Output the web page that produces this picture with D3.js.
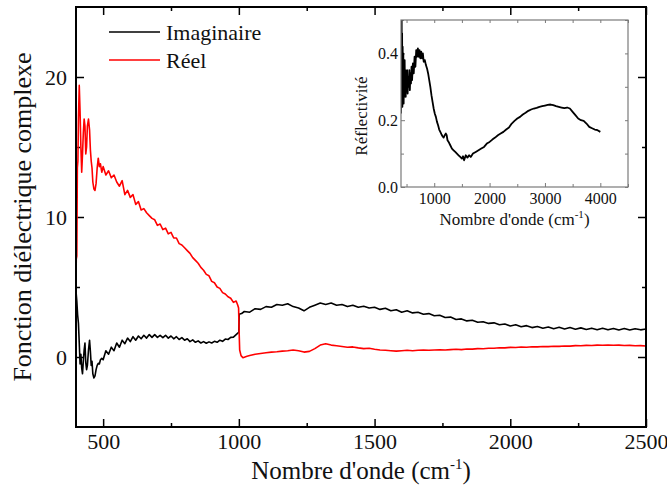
<!DOCTYPE html>
<html><head><meta charset="utf-8">
<script src="https://cdn.jsdelivr.net/npm/d3@7"></script>
<style>body{margin:0;background:#fff}svg{display:block}</style>
</head><body><svg id="c" width="667" height="490"></svg>
<script>
// ---- data ----
const legendLabels = ["Imaginaire", "Réel"];
const xMajorTicks = [500, 1000, 1500, 2000, 2500];
const xMinorTicks = [750, 1250, 1750, 2250];
const yMajorTicks = [0, 10, 20];
const yMinorTicks = [5, 15];
const insetXMajor = [1000, 2000, 3000, 4000];
const insetXMinor = [500, 1500, 2500, 3500, 4500];
const insetYMajor = [0.0, 0.2, 0.4];
const insetYMinor = [0.1, 0.3, 0.5];

const imaginaire = [
[400,4.7],[403,4.0],[406,3.0],[409,2.4],[412,1.0],[415,-0.5],[418,0.2],[421,-0.8],[424,-1.2],[427,-0.3],
[430,0.5],[433,1.0],[436,-0.4],[439,-0.9],[442,-0.6],[446,0.5],[450,1.2],[453,0.4],[456,-0.6],[459,-0.3],
[462,-1.2],[466,-1.5],[470,-1.35],[474,-0.9],[478,-0.6],[482,-0.45],[486,-0.5],[490,-0.2],[495,-0.1],
[500,-0.2],[510,0.45],[520,0.2],[530,0.7],[540,0.45],[550,1.0],[560,0.7],[570,1.2],[580,0.95],[590,1.35],
[600,1.1],[610,1.45],[620,1.2],[630,1.5],[640,1.3],[650,1.55],[660,1.35],[670,1.6],[680,1.4],[690,1.6],
[700,1.4],[710,1.55],[720,1.38],[730,1.55],[740,1.35],[750,1.5],[760,1.3],[770,1.45],[780,1.25],[790,1.38],
[800,1.2],[810,1.3],[820,1.1],[830,1.22],[840,1.05],[850,1.15],[860,1.0],[870,1.1],[880,0.98],[890,1.08],
[900,1.0],[910,1.12],[920,1.05],[930,1.2],[940,1.12],[950,1.28],[960,1.25],[970,1.4],[980,1.42],[990,1.6],
[996,1.7],[1000,1.78],[1001,3.05],[1010,3.1],[1020,3.25],[1040,3.2],[1060,3.45],[1080,3.4],[1100,3.6],
[1120,3.55],[1140,3.75],[1160,3.7],[1180,3.8],[1200,3.6],[1220,3.5],[1240,3.3],[1260,3.55],[1280,3.7],
[1300,3.85],[1320,3.75],[1340,3.85],[1360,3.7],[1380,3.75],[1400,3.6],[1420,3.7],[1440,3.55],[1460,3.62],
[1480,3.5],[1500,3.55],[1520,3.4],[1540,3.48],[1560,3.3],[1580,3.38],[1600,3.2],[1620,3.3],[1640,3.15],
[1660,3.2],[1680,3.05],[1700,3.1],[1720,2.95],[1740,2.98],[1760,2.82],[1780,2.85],[1800,2.68],[1820,2.72],
[1840,2.58],[1860,2.62],[1880,2.48],[1900,2.52],[1920,2.4],[1940,2.44],[1960,2.3],[1980,2.36],[2000,2.22],
[2020,2.3],[2040,2.16],[2060,2.24],[2080,2.1],[2100,2.18],[2120,2.06],[2140,2.14],[2160,2.02],[2180,2.12],
[2200,2.0],[2220,2.1],[2240,1.98],[2260,2.08],[2280,1.96],[2300,2.06],[2320,1.95],[2340,2.05],[2360,1.94],
[2380,2.04],[2400,1.93],[2420,2.03],[2440,1.93],[2460,2.02],[2480,1.94],[2500,2.0]
];

const reel = [
[400,5.0],[401,7.0],[403,7.2],[405,13.5],[407,14.0],[409,17.0],[412,19.4],[415,17.5],[418,15.0],[421,13.2],
[424,14.5],[427,16.0],[430,17.0],[433,16.5],[436,14.5],[439,15.0],[442,16.5],[446,17.0],[450,16.2],[453,14.8],
[456,14.0],[459,13.5],[462,12.5],[466,12.0],[470,11.9],[474,12.4],[478,13.5],[482,14.2],[486,13.6],[490,13.8],
[495,13.2],[500,13.6],[510,13.0],[520,13.3],[530,12.8],[540,13.0],[550,12.5],[560,12.2],[570,12.6],[580,11.6],
[590,11.9],[600,11.4],[610,11.6],[620,10.9],[630,11.1],[640,10.5],[650,10.6],[660,10.3],[670,10.1],[680,9.9],
[690,9.8],[700,9.4],[710,9.5],[720,9.1],[730,9.2],[740,8.8],[750,8.9],[760,8.5],[770,8.5],[780,8.1],
[790,8.0],[800,7.8],[810,7.6],[820,7.4],[830,7.1],[840,6.9],[850,6.7],[860,6.4],[870,6.2],[880,5.9],
[890,5.8],[900,5.4],[910,5.3],[920,5.0],[930,4.9],[940,4.6],[950,4.5],[960,4.3],[970,4.2],[980,3.9],
[990,4.0],[996,3.7],[999,3.5],[1001,1.8],[1003,0.5],[1008,0.1],[1015,-0.05],[1030,0.05],[1040,0.1],[1060,0.2],
[1080,0.25],[1100,0.3],[1120,0.35],[1140,0.38],[1160,0.42],[1180,0.45],[1200,0.5],[1220,0.45],[1240,0.35],
[1260,0.4],[1280,0.6],[1300,0.85],[1320,0.95],[1340,0.85],[1360,0.8],[1380,0.75],[1400,0.7],[1420,0.72],
[1440,0.65],[1460,0.6],[1480,0.62],[1500,0.55],[1520,0.5],[1540,0.48],[1560,0.45],[1580,0.42],[1600,0.45],
[1620,0.48],[1640,0.45],[1660,0.48],[1680,0.5],[1700,0.48],[1720,0.5],[1740,0.52],[1760,0.5],[1780,0.53],
[1800,0.55],[1820,0.53],[1840,0.57],[1860,0.56],[1880,0.6],[1900,0.59],[1920,0.63],[1940,0.62],[1960,0.66],
[1980,0.65],[2000,0.69],[2020,0.68],[2040,0.71],[2060,0.7],[2080,0.73],[2100,0.72],[2120,0.75],[2140,0.74],
[2160,0.77],[2180,0.76],[2200,0.79],[2220,0.78],[2240,0.81],[2260,0.8],[2280,0.83],[2300,0.82],[2320,0.85],
[2340,0.84],[2360,0.86],[2380,0.84],[2400,0.85],[2420,0.82],[2440,0.83],[2460,0.8],[2480,0.81],[2500,0.79]
];

const reflectivite = [
[400,0.22],[404,0.55],[408,0.30],[412,0.52],[416,0.26],[420,0.46],[425,0.24],[430,0.42],[436,0.28],[442,0.40],
[448,0.25],[454,0.36],[460,0.27],[466,0.38],[472,0.29],[478,0.35],[485,0.27],[492,0.34],[500,0.29],[510,0.35],
[520,0.28],[530,0.33],[540,0.30],[550,0.35],[560,0.29],[570,0.34],[580,0.31],[590,0.36],[600,0.32],[615,0.37],
[630,0.34],[645,0.39],[660,0.36],[675,0.41],[690,0.39],[705,0.415],[720,0.39],[735,0.41],[750,0.385],[765,0.405],
[780,0.385],[795,0.40],[810,0.375],[830,0.38],[850,0.365],[870,0.355],[890,0.34],[910,0.32],[930,0.30],[950,0.275],
[970,0.255],[990,0.235],[1010,0.22],[1030,0.21],[1050,0.195],[1070,0.185],[1090,0.172],[1110,0.165],[1130,0.158],
[1150,0.152],[1170,0.148],[1190,0.155],[1210,0.16],[1225,0.155],[1240,0.14],[1260,0.135],[1290,0.125],[1320,0.115],
[1350,0.11],[1380,0.105],[1410,0.1],[1440,0.095],[1470,0.09],[1500,0.085],[1520,0.092],[1540,0.08],[1570,0.095],
[1600,0.088],[1630,0.095],[1660,0.09],[1700,0.1],[1750,0.105],[1800,0.11],[1850,0.115],[1900,0.12],[1950,0.13],
[2000,0.135],[2050,0.142],[2100,0.148],[2150,0.155],[2200,0.16],[2250,0.165],[2300,0.172],[2350,0.178],[2400,0.19],
[2450,0.198],[2500,0.205],[2550,0.21],[2600,0.217],[2650,0.222],[2700,0.228],[2750,0.232],[2800,0.235],[2850,0.237],
[2900,0.24],[2950,0.242],[3000,0.244],[3050,0.246],[3100,0.247],[3150,0.245],[3200,0.242],[3250,0.24],[3300,0.238],
[3350,0.236],[3400,0.238],[3450,0.235],[3500,0.225],[3550,0.215],[3600,0.205],[3650,0.2],[3700,0.198],[3750,0.19],
[3800,0.18],[3850,0.176],[3900,0.172],[3950,0.17],[4000,0.165]
];

// ---- layout ----
const svg = d3.select("#c");
const FONT = "'Liberation Serif','Times New Roman',serif";
const M = {l:76, r:646, t:7, b:427};
const x = d3.scaleLinear().domain([400, 2500]).range([M.l, M.r]);
const y = d3.scaleLinear().domain([-5, 25]).range([M.b, M.t]);

svg.append("clipPath").attr("id","mainclip").append("rect")
  .attr("x",M.l).attr("y",M.t).attr("width",M.r-M.l).attr("height",M.b-M.t);

function styleAxis(g, color, fs){
  g.select(".domain").remove();
  g.selectAll("line").attr("stroke", color).attr("stroke-width", 1.5);
  g.selectAll("text").attr("font-family", FONT).attr("font-size", fs).attr("fill", "#111");
}

// main axes: major + minor, ticks inward on all four sides
svg.append("g").attr("transform",`translate(0,${M.b})`)
  .call(d3.axisBottom(x).tickValues(xMajorTicks).tickSize(-8).tickPadding(6).tickFormat(d3.format("d")))
  .call(g=>styleAxis(g,"#000",22));
svg.append("g").attr("transform",`translate(0,${M.b})`)
  .call(d3.axisBottom(x).tickValues(xMinorTicks).tickSize(-4).tickFormat(""))
  .call(g=>styleAxis(g,"#000",22));
svg.append("g").attr("transform",`translate(0,${M.t})`)
  .call(d3.axisTop(x).tickValues(xMajorTicks).tickSize(-8).tickFormat(""))
  .call(g=>styleAxis(g,"#000",22));
svg.append("g").attr("transform",`translate(0,${M.t})`)
  .call(d3.axisTop(x).tickValues(xMinorTicks).tickSize(-4).tickFormat(""))
  .call(g=>styleAxis(g,"#000",22));
svg.append("g").attr("transform",`translate(${M.l},0)`)
  .call(d3.axisLeft(y).tickValues(yMajorTicks).tickSize(-8).tickPadding(9).tickFormat(d3.format("d")))
  .call(g=>styleAxis(g,"#000",22));
svg.append("g").attr("transform",`translate(${M.l},0)`)
  .call(d3.axisLeft(y).tickValues(yMinorTicks).tickSize(-4).tickFormat(""))
  .call(g=>styleAxis(g,"#000",22));
svg.append("g").attr("transform",`translate(${M.r},0)`)
  .call(d3.axisRight(y).tickValues(yMajorTicks).tickSize(-8).tickFormat(""))
  .call(g=>styleAxis(g,"#000",22));
svg.append("g").attr("transform",`translate(${M.r},0)`)
  .call(d3.axisRight(y).tickValues(yMinorTicks).tickSize(-4).tickFormat(""))
  .call(g=>styleAxis(g,"#000",22));

// main lines
const line = d3.line().x(d=>x(d[0])).y(d=>y(d[1]));
const gl = svg.append("g").attr("clip-path","url(#mainclip)");
gl.append("path").datum(imaginaire).attr("d",line).attr("fill","none")
  .attr("stroke","#000").attr("stroke-width",1.6).attr("stroke-linejoin","round");
gl.append("path").datum(reel).attr("d",line).attr("fill","none")
  .attr("stroke","#ff0000").attr("stroke-width",1.6).attr("stroke-linejoin","round");

// frame
svg.append("rect").attr("x",M.l).attr("y",M.t).attr("width",M.r-M.l).attr("height",M.b-M.t)
  .attr("fill","none").attr("stroke","#000").attr("stroke-width",2);

// axis titles
const xt = svg.append("text").attr("x",(M.l+M.r)/2).attr("y",479).attr("text-anchor","middle")
  .attr("font-family",FONT).attr("font-size",25).attr("fill","#111");
xt.append("tspan").text("Nombre d'onde (cm");
xt.append("tspan").attr("font-size",15).attr("dy",-10).text("-1");
xt.append("tspan").attr("dy",10).text(")");

svg.append("text").attr("transform",`translate(31,217) rotate(-90)`).attr("text-anchor","middle")
  .attr("font-family",FONT).attr("font-size",26).attr("fill","#111")
  .text("Fonction diélectrique complexe");

// legend
const legColors = ["#000","#ff0000"];
legendLabels.forEach((lab,i)=>{
  const ly = 32 + i*28;
  svg.append("line").attr("x1",109).attr("x2",160).attr("y1",ly).attr("y2",ly)
    .attr("stroke",legColors[i]).attr("stroke-width",1.6);
  svg.append("text").attr("x",166).attr("y",ly+8).attr("font-family",FONT).attr("font-size",22)
    .attr("fill","#111").text(lab);
});

// ---- inset ----
const I = {l:401, r:628, t:20, b:187};
const xi = d3.scaleLinear().domain([400, 4500]).range([I.l, I.r]);
const yi = d3.scaleLinear().domain([0, 0.5]).range([I.b, I.t]);
svg.append("clipPath").attr("id","insclip").append("rect")
  .attr("x",I.l).attr("y",I.t).attr("width",I.r-I.l).attr("height",I.b-I.t);
const GR = "#7a7a7a";
function insAxis(gen, tr, fs){
  svg.append("g").attr("transform",tr).call(gen).call(g=>{
    g.select(".domain").remove();
    g.selectAll("line").attr("stroke",GR).attr("stroke-width",1);
    g.selectAll("text").attr("font-family",FONT).attr("font-size",fs).attr("fill","#111");
  });
}
insAxis(d3.axisBottom(xi).tickValues(insetXMajor).tickSize(-4).tickPadding(6).tickFormat(d3.format("d")), `translate(0,${I.b})`, 16);
insAxis(d3.axisBottom(xi).tickValues(insetXMinor).tickSize(-3).tickFormat(""), `translate(0,${I.b})`, 16);
insAxis(d3.axisTop(xi).tickValues(insetXMajor.concat(insetXMinor)).tickSize(-3).tickFormat(""), `translate(0,${I.t})`, 16);
insAxis(d3.axisLeft(yi).tickValues(insetYMajor).tickSize(-4).tickPadding(3).tickFormat(d3.format(".1f")), `translate(${I.l},0)`, 16);
insAxis(d3.axisLeft(yi).tickValues(insetYMinor).tickSize(-3).tickFormat(""), `translate(${I.l},0)`, 16);
insAxis(d3.axisRight(yi).tickValues(insetYMajor.concat(insetYMinor)).tickSize(-3).tickFormat(""), `translate(${I.r},0)`, 16);

const linei = d3.line().x(d=>xi(d[0])).y(d=>yi(d[1]));
svg.append("g").attr("clip-path","url(#insclip)").append("path").datum(reflectivite)
  .attr("d",linei).attr("fill","none").attr("stroke","#000").attr("stroke-width",1.8)
  .attr("stroke-linejoin","round");

svg.append("rect").attr("x",I.l).attr("y",I.t).attr("width",I.r-I.l).attr("height",I.b-I.t)
  .attr("fill","none").attr("stroke",GR).attr("stroke-width",1.2);

const xti = svg.append("text").attr("x",(I.l+I.r)/2).attr("y",225).attr("text-anchor","middle")
  .attr("font-family",FONT).attr("font-size",17).attr("fill","#111");
xti.append("tspan").text("Nombre d'onde (cm");
xti.append("tspan").attr("font-size",11).attr("dy",-7).text("-1");
xti.append("tspan").attr("dy",7).text(")");

svg.append("text").attr("transform",`translate(367,116) rotate(-90)`).attr("text-anchor","middle")
  .attr("font-family",FONT).attr("font-size",17).attr("fill","#111").text("Réflectivité");
</script></body></html>
